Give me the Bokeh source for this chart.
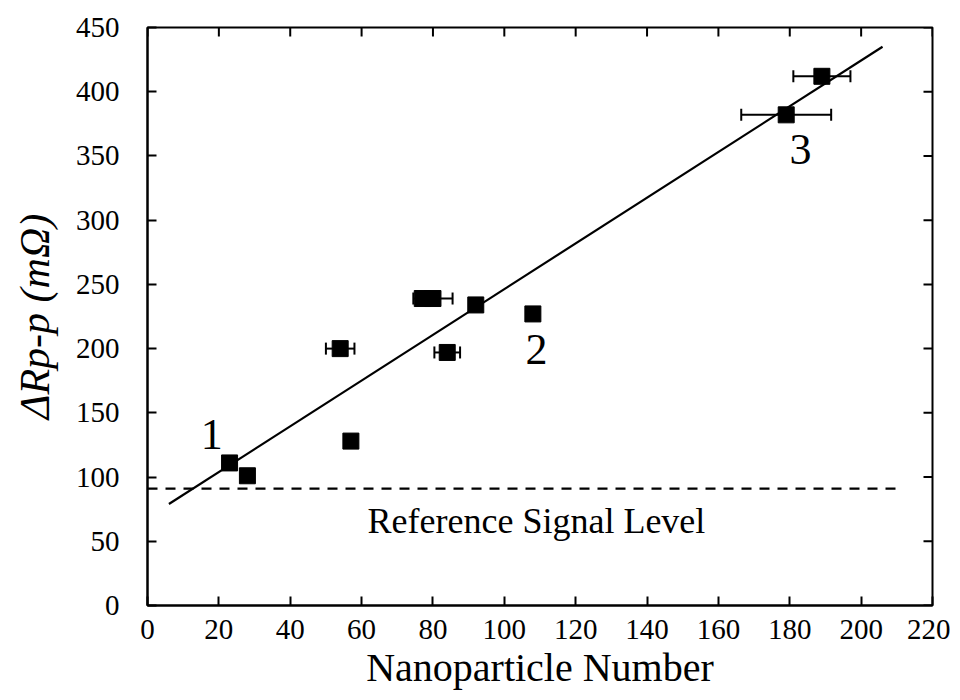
from bokeh.plotting import figure
from bokeh.models import ColumnDataSource, Whisker, TeeHead, Label, FixedTicker, Range1d
from bokeh.embed import file_html
from bokeh.resources import INLINE
from bokeh.core.properties import value

# ---- data ----
nanoparticle_number = [23, 28, 57, 54, 84, 77, 80, 92, 108, 179, 189]
delta_rpp = [111, 101, 128, 200, 197, 239, 239, 234, 227, 382, 412]
x_error = [0, 0, 0, 4, 3.6, 0, 5.5, 0, 0, 12.6, 8]

fit_x = [6, 206]
fit_y = [79, 435]

reference_level = 91
reference_x = [0, 210]

point_ids = ["1", "2", "3"]
point_id_x = [18, 109, 183]
point_id_y = [133, 199, 355]

x_ticks = list(range(0, 221, 20))
y_ticks = list(range(0, 451, 50))

X_MIN, X_MAX = 0, 220
Y_MIN, Y_MAX = 0, 450

FONT = "Liberation Serif"

p = figure(width=950, height=692, output_backend="svg", toolbar_location=None,
           x_range=Range1d(X_MIN, X_MAX), y_range=Range1d(Y_MIN, Y_MAX),
           min_border_left=147, min_border_right=18, min_border_top=27, min_border_bottom=87)
p.grid.visible = False
p.outline_line_color = "black"
p.outline_line_width = 2

for ax in (p.xaxis[0], p.yaxis[0]):
    ax.major_tick_in = 9
    ax.major_tick_out = 0
    ax.minor_tick_in = 0
    ax.minor_tick_out = 0
    ax.axis_line_width = 2
    ax.major_tick_line_width = 2
    ax.major_label_text_font = FONT
    ax.major_label_text_font_size = "29px"
    ax.major_label_text_color = "black"
    ax.axis_label_text_font = FONT
    ax.axis_label_text_color = "black"

p.xaxis[0].ticker = FixedTicker(ticks=x_ticks)
p.yaxis[0].ticker = FixedTicker(ticks=y_ticks)
p.xaxis[0].major_label_standoff = 14
p.yaxis[0].major_label_standoff = 28
p.xaxis[0].axis_label = "Nanoparticle Number"
p.xaxis[0].axis_label_text_font_size = "40px"
p.xaxis[0].axis_label_text_font_style = "normal"
p.xaxis[0].axis_label_standoff = 3
p.yaxis[0].axis_label = "ΔRp-p (mΩ)"
p.yaxis[0].axis_label_text_font_size = "42px"
p.yaxis[0].axis_label_text_font_style = "italic"
p.yaxis[0].axis_label_standoff = 15

# mirrored inward ticks on the top and right edges
tick_dx = (X_MAX - X_MIN) * 9 / 785
tick_dy = (Y_MAX - Y_MIN) * 9 / 578
p.segment(x0=x_ticks, x1=x_ticks, y0=[Y_MAX] * len(x_ticks), y1=[Y_MAX - tick_dy] * len(x_ticks),
          line_color="black", line_width=2)
p.segment(x0=[X_MAX] * len(y_ticks), x1=[X_MAX - tick_dx] * len(y_ticks), y0=y_ticks, y1=y_ticks,
          line_color="black", line_width=2)

# reference level
p.line(reference_x, [reference_level, reference_level], line_color="black",
       line_width=2.2, line_dash="10 8")

# fit
p.line(fit_x, fit_y, line_color="black", line_width=2.2)

# error bars
ex = [x for x, e in zip(nanoparticle_number, x_error) if e > 0]
ey = [y for y, e in zip(delta_rpp, x_error) if e > 0]
ee = [e for e in x_error if e > 0]
err_src = ColumnDataSource(dict(y=ey, lower=[x - e for x, e in zip(ex, ee)],
                                upper=[x + e for x, e in zip(ex, ee)]))
w = Whisker(source=err_src, base="y", lower="lower", upper="upper", dimension="width",
            line_color="black", line_width=2,
            lower_head=TeeHead(size=12, line_width=2, line_color="black"),
            upper_head=TeeHead(size=12, line_width=2, line_color="black"))
p.add_layout(w)

# points
p.scatter(nanoparticle_number, delta_rpp, marker="square", size=16,
          fill_color="black", line_color="black")

# point ids
p.text(point_id_x, point_id_y, text=point_ids, text_font=value(FONT), text_font_size="44px",
       text_align="center", text_baseline="middle", text_color="black")

p.add_layout(Label(x=109, y=66, text="Reference Signal Level", text_font=FONT,
                   text_font_size="36px", text_align="center", text_baseline="middle",
                   text_color="black"))

open("out.html", "w").write(file_html(p, INLINE))
